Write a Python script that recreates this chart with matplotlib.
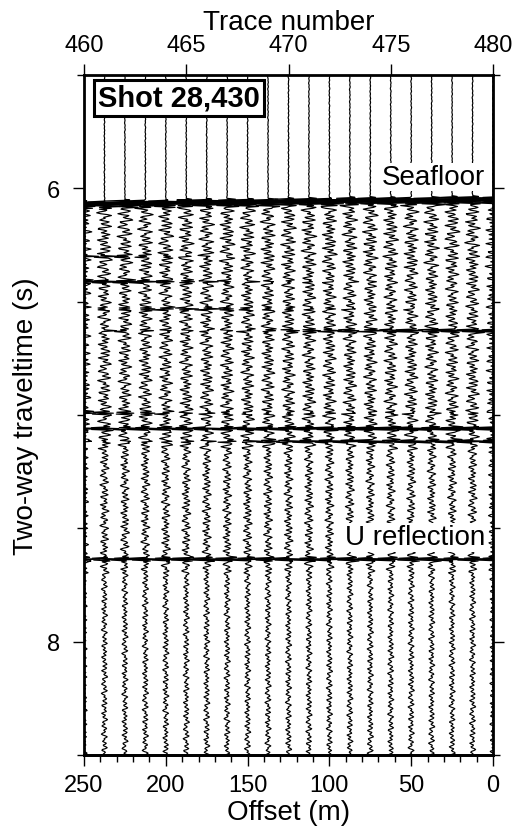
import numpy as np
import matplotlib.pyplot as plt
from matplotlib.ticker import MultipleLocator

plt.rcParams['font.family'] = ['Liberation Sans', 'DejaVu Sans']

# trace numbers (top axis) and time window (s)
traces = list(range(460, 481))
dt = 0.004
t_top, t_bot = 5.5, 8.5

# seafloor pick per trace (s)
seafloor_t = [6.055, 6.054, 6.053, 6.052, 6.051, 6.050, 6.049, 6.048, 6.047, 6.046, 6.045,
              6.044, 6.043, 6.042, 6.041, 6.040, 6.039, 6.038, 6.037, 6.036, 6.035]
seafloor_amp = 1.7
seafloor_wavelet = [0.15, -0.45, 1.0, -1.0, 0.8, -0.6, 0.45, -0.3, 0.2, -0.1]

# other reflections: time and amplitude per trace (460 -> 480)
event_t = [6.30, 6.413, 6.53, 6.63, 6.99, 7.06, 7.115, 7.635]
event_amp = [
    [0.6, 0.6, 0.5, 0.4, 0.3, 0.2, 0.2, 0.1, 0.1, 0, 0, 0, 0, 0, 0, 0, 0, 0, 0, 0, 0],
    [1.0, 1.0, 0.9, 0.8, 0.6, 0.5, 0.4, 0.3, 0.3, 0.2, 0.2, 0.2, 0.1, 0.1, 0.1, 0, 0, 0, 0, 0, 0],
    [0.2, 0.3, 0.4, 0.5, 0.6, 0.6, 0.6, 0.5, 0.4, 0.3, 0.3, 0.2, 0.2, 0.2, 0.1, 0.1, 0.1, 0.1, 0, 0, 0],
    [0.2, 0.3, 0.3, 0.3, 0.2, 0.2, 0.2, 0.2, 0.3, 0.4, 0.5, 0.6, 0.6, 0.7, 0.8, 0.9, 0.9, 1.0, 1.0, 1.0, 1.0],
    [0.7, 0.7, 0.6, 0.5, 0.4, 0.3, 0.3, 0.3, 0.2, 0.2, 0.2, 0.2, 0.2, 0.2, 0.2, 0.2, 0.2, 0.2, 0.2, 0.2, 0.2],
    [0.9, 0.9, 0.9, 0.9, 0.9, 0.9, 0.9, 0.9, 1.0, 1.1, 1.2, 1.2, 1.3, 1.3, 1.3, 1.3, 1.3, 1.3, 1.3, 1.3, 1.3],
    [0.2, 0.2, 0.2, 0.2, 0.2, 0.3, 0.3, 0.4, 0.5, 0.7, 0.8, 0.9, 0.9, 0.9, 0.9, 0.9, 0.9, 0.9, 0.9, 0.9, 0.9],
    [1.0, 1.0, 1.0, 1.0, 1.0, 1.0, 1.0, 1.0, 1.0, 1.0, 1.0, 1.0, 1.0, 1.0, 1.0, 1.0, 1.0, 1.0, 1.0, 1.0, 1.0],
]
event_wavelet = [0.25, -0.6, 1.0, -0.7, 0.25]

# reverberation coda samples (read by eye, reused along each trace)
coda = [0.2, 0.7, 0.4, -0.3, -0.9, -0.4, 0.5, 0.3, -0.2, 0.1, 0.8, 1.0, 0.2, -0.6, -0.5,
        0.0, 0.3, -0.1, -0.7, -0.9, -0.2, 0.4, 0.6, 0.1, -0.3, 0.2, 0.9, 0.5, -0.4, -1.0,
        -0.6, 0.1, 0.2, -0.2, 0.3, 0.7, 0.3, -0.5, -0.3, 0.4, 0.8, 0.2, -0.8, -0.7, 0.0,
        0.5, 0.2, -0.1, 0.4, 0.6, -0.2, -0.9, -0.4, 0.3, 0.1, -0.5, -0.2, 0.6, 1.0, 0.5,
        -0.3, -0.6, -0.1, 0.2, -0.4, -0.8, -0.3, 0.5, 0.7, 0.0, -0.2, 0.3, 0.1, -0.6, -1.0,
        -0.5, 0.4, 0.9, 0.4, -0.1, 0.1, -0.3, -0.6, 0.0, 0.6, 0.3, -0.4, -0.2, 0.5, 0.9,
        0.3, -0.7, -0.8, -0.1, 0.3, 0.0, -0.4, 0.2, 0.7, 0.2, -0.3, 0.1, 0.5, -0.2, -0.9,
        -0.6, 0.2, 0.4, -0.1, -0.5, 0.0, 0.6, 0.8, 0.1, -0.5]
coda_start = [0, 37, 81, 19, 63, 102, 8, 54, 91, 27, 72, 110, 43, 13, 86, 59, 22, 97, 68, 4, 48]
gain_t = [6.35, 7.15, 7.7]
gain = [0.33, 0.22, 0.15]
first_gain = 0.38
pre_gain = 0.02

offset_ticks = [0, 50, 100, 150, 200, 250]


def tr2off(tr):
    return (480 - tr) * 12.5


def off2tr(off):
    return 480 - off / 12.5


fig = plt.figure(figsize=(5.16, 8.29), dpi=100)
ax = fig.add_axes([84 / 516, 1 - 756 / 829, 409 / 516, 680 / 829])

n = int(round((t_bot - t_top) / dt)) + 1
times = t_top + dt * np.arange(n)
coda_arr = np.array(coda)

for i, tr in enumerate(traces):
    sig = coda_arr[(coda_start[i] + np.arange(n)) % len(coda)]
    g = np.full(n, pre_gain)
    g[times >= seafloor_t[i]] = first_gain
    for tg, gv in zip(gain_t, gain):
        g[times >= tg] = gv
    amp = sig * g
    k = int(round((seafloor_t[i] - t_top) / dt))
    amp[k:k + len(seafloor_wavelet)] += seafloor_amp * np.array(seafloor_wavelet)
    for te, row in zip(event_t, event_amp):
        k = int(round((te - t_top) / dt)) - len(event_wavelet) // 2
        amp[k:k + len(event_wavelet)] += row[i] * np.array(event_wavelet)
    ax.plot(tr + amp, times, color='k', lw=0.85)

ax.set_xlim(460, 480)
ax.set_ylim(t_bot, t_top)
ax.xaxis.set_ticks_position('top')
ax.xaxis.set_label_position('top')
ax.set_xticks([460, 465, 470, 475, 480])
ax.set_xlabel('Trace number', fontsize=20, labelpad=3)
ax.set_yticks([6, 8], ['6', '8'])
ax.yaxis.set_minor_locator(MultipleLocator(0.5))
ax.set_ylabel('Two-way traveltime (s)', fontsize=20, labelpad=6)
ax.tick_params(axis='both', which='major', direction='out', length=8, width=1, labelsize=17)
ax.tick_params(axis='x', which='major', pad=6)
ax.tick_params(axis='y', which='major', pad=9)
ax.tick_params(axis='y', which='both', right=True)
ax.tick_params(axis='y', which='minor', direction='out', length=5, width=1)
for s in ax.spines.values():
    s.set_linewidth(2)

sec = ax.secondary_xaxis('bottom', functions=(tr2off, off2tr))
sec.set_xticks(offset_ticks)
sec.xaxis.set_minor_locator(MultipleLocator(10))
sec.tick_params(which='major', direction='out', length=8, width=1, labelsize=17, pad=6)
sec.tick_params(which='minor', direction='out', length=5, width=1)
sec.spines['bottom'].set_linewidth(2)
sec.set_xlabel('Offset (m)', fontsize=20, labelpad=2)

ax.text(460.68, 5.601, 'Shot 28,430', fontsize=21, fontweight='bold', ha='left', va='center',
        bbox=dict(boxstyle='square,pad=0.15', fc='white', ec='black', lw=2.2), zorder=5)
ax.text(479.6, 5.95, 'Seafloor', fontsize=20, ha='right', va='center',
        bbox=dict(boxstyle='square,pad=0.05', fc='white', ec='none'), zorder=5)
ax.text(479.6, 7.54, 'U reflection', fontsize=20, ha='right', va='center',
        bbox=dict(boxstyle='square,pad=0.05', fc='white', ec='none'), zorder=5)

fig.savefig('out.png', dpi=100)
